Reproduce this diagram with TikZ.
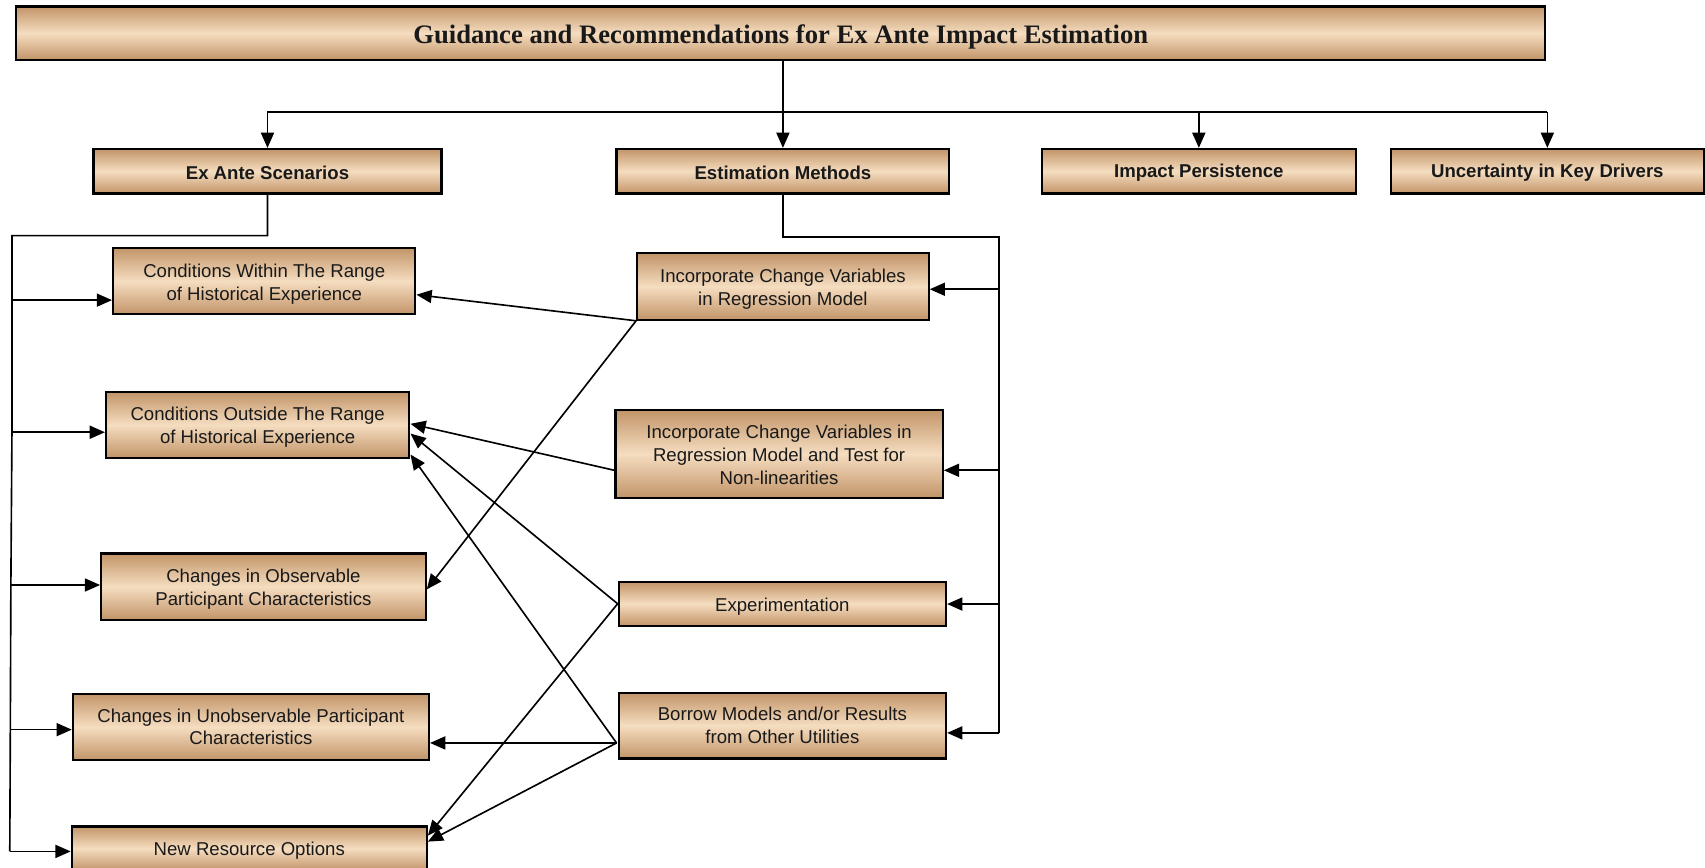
\documentclass[tikz,border=0pt]{standalone}
\usepackage{fontspec}
\setmainfont{Liberation Serif}
\newfontfamily\boxfont{Liberation Sans}
\usetikzlibrary{arrows.meta,calc}
\definecolor{tanD}{RGB}{194,148,104}
\definecolor{tanL}{RGB}{245,221,192}
\tikzset{
  boxbase/.style={draw=black, line width=1pt, top color=tanD, bottom color=tanD, middle color=tanL,
    inner sep=0pt, align=center, text=black!90},
  % lift: a strut beside the text block, which moves the text down a little
  lift/.style={execute at begin node={\rule{0pt}{#1}}},
  box/.style={boxbase, font=\boxfont\fontsize{8.55}{10.5}\selectfont},
  hdr/.style={boxbase, font=\boxfont\bfseries\fontsize{8.55}{10.5}\selectfont, lift=7.6pt},
  ttl/.style={boxbase, font=\bfseries\fontsize{12.25}{14}\selectfont, lift=12pt},
  conn/.style={line width=0.75pt},
  arr/.style={conn, -{Triangle[length=7pt,width=6pt]}},
}
\begin{document}
\begin{tikzpicture}[x=0.5pt, y=-0.5pt]
\useasboundingbox (0,0) rectangle (1568,798);
\clip (0,0) rectangle (1568,798);

% title and first level
\node[ttl, minimum width=703pt, minimum height=24.5pt] (title) at (718,30.5)
      {Guidance and Recommendations for Ex Ante Impact Estimation};
\node[hdr, minimum width=160pt, minimum height=20.5pt] (exante) at (246,157.5) {Ex Ante Scenarios};
\node[hdr, minimum width=153pt, minimum height=20.5pt] (estim) at (720,157.5) {Estimation Methods};
\node[hdr, minimum width=144.5pt, minimum height=20.5pt] (impact) at (1102.5,157.5) {Impact Persistence};
\node[hdr, minimum width=144pt, minimum height=20.5pt] (uncert) at (1423,157.5) {Uncertainty in Key Drivers};

% scenarios
\node[box, lift=19.8pt, minimum width=139pt, minimum height=30.5pt] (A) at (243,258.5)
  {Conditions Within The Range\\of Historical Experience};
\node[box, lift=18.8pt, minimum width=139.5pt, minimum height=30.25pt] (B) at (237,390.75)
  {Conditions Outside The Range\\of Historical Experience};
\node[box, lift=18.8pt, minimum width=149.25pt, minimum height=30.5pt] (C) at (242.25,539.5)
  {Changes in Observable\\Participant Characteristics};
\node[box, minimum width=163.75pt, minimum height=30.5pt] (D) at (230.75,668.5)
  {Changes in Unobservable Participant\\Characteristics};
\node[box, lift=8pt, minimum width=163.25pt, minimum height=20.25pt] (E) at (229.25,780.25)
  {New Resource Options};

% methods
\node[box, lift=18.8pt, minimum width=134pt, minimum height=30.5pt] (F) at (720,263.5)
  {Incorporate Change Variables\\in Regression Model};
\node[box, lift=28pt, minimum width=150.5pt, minimum height=40.5pt] (G) at (716.5,417.5)
  {Incorporate Change Variables in\\Regression Model and Test for\\Non-linearities};
\node[box, lift=9.3pt, minimum width=150.5pt, minimum height=20.25pt] (H) at (719.5,555.25)
  {Experimentation};
\node[box, minimum width=150.5pt, minimum height=30.25pt] (I) at (719.5,667.25)
  {Borrow Models and/or Results\\from Other Utilities};

% top bus
\coordinate (bus) at (0,103);
\draw[arr] (title.south -| estim.north) -- (estim.north);
\draw[conn] (exante.north |- bus) -- (uncert.north |- bus);
\draw[arr] (exante.north |- bus) -- (exante.north);
\draw[arr] (impact.north |- bus) -- (impact.north);
\draw[arr] (uncert.north |- bus) -- (uncert.north);

% left spine
\coordinate (ltop) at (11,216.7);
\coordinate (lA) at (11,276);
\coordinate (lB) at (11,397.5);
\coordinate (lC) at (10,538);
\coordinate (lD) at (9.5,671);
\coordinate (lE) at (9,783);
\draw[conn] (exante.south) |- (ltop) -- (lA) -- (lB) -- (lC) -- (lD) -- (lE);
\draw[arr] (lA) -- (lA -| A.west);
\draw[arr] (lB) -- (lB -| B.west);
\draw[arr] (lC) -- (lC -| C.west);
\draw[arr] (lD) -- (lD -| D.west);
\draw[arr] (lE) -- (lE -| E.west);

% right spine
\coordinate (rtop) at (919,217.7);
\coordinate (rF) at (919,266);
\coordinate (rG) at (919,432.5);
\coordinate (rH) at (919,555.5);
\coordinate (rI) at (919,674);
\draw[conn] (estim.south) |- (rtop) -- (rI);
\draw[arr] (rF) -- (rF -| F.east);
\draw[arr] (rG) -- (rG -| G.east);
\draw[arr] (rH) -- (rH -| H.east);
\draw[arr] (rI) -- (rI -| I.east);

% cross links
\coordinate (Gw) at ($(G.west)+(0,15)$);
\coordinate (Iw) at ($(I.west)+(-1,16)$);
\draw[arr] (F.south west) -- ($(A.east)+(0,12.5)$);
\draw[arr] (F.south west) -- ($(C.east)+(0,2.5)$);
\draw[arr] (Gw) -- ($(B.east)+(0,-1)$);
\draw[arr] (H.west) -- ($(B.east)+(0,8)$);
\draw[arr] (Iw) -- ($(B.south east)+(0,-4)$);
\draw[arr] (H.west) -- ($(E.north east)+(0,9.5)$);
\draw[arr] (Iw) -- (Iw -| D.east);
\draw[arr] (Iw) -- ($(E.north east)+(0,15)$);
\end{tikzpicture}
\end{document}
